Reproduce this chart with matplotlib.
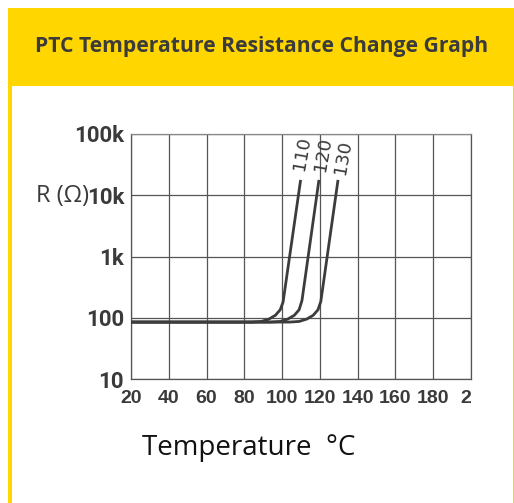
import numpy as np
import matplotlib.pyplot as plt
from matplotlib.patches import Rectangle

# x axis: temperature ticks, y axis: resistance decades
temp_ticks = [20, 40, 60, 80, 100, 120, 140, 160, 180, 200]
temp_labels = ["20", "40", "60", "80", "100", "120", "140", "160", "180", "2"]
res_ticks = [10, 100, 1000, 10000, 100000]
res_labels = ["10", "100", "1k", "10k", "100k"]

# curves (temperature, resistance)
t_110 = [20, 84, 89, 93, 96.5, 99, 100.5, 109.8]
r_110 = [85, 85, 87, 95, 110, 135, 180, 17800]
t_120 = [20, 94, 99, 103, 106.5, 109, 110.5, 119.5]
r_120 = [85, 85, 87, 95, 110, 135, 190, 17800]
t_130 = [20, 104, 109, 113, 116.5, 119, 120.5, 129.6]
r_130 = [85, 85, 87, 95, 110, 135, 185, 17800]
curve_names = ["110", "120", "130"]

W, H = 514, 503
fig = plt.figure(figsize=(W / 100, H / 100), dpi=100)

def px_rect(x0, y0, x1, y1, color):
    fig.patches.append(Rectangle((x0 / W, 1 - y1 / H), (x1 - x0) / W, (y1 - y0) / H,
                                 transform=fig.transFigure, color=color, zorder=0, lw=0))

yellow = "#FFD600"
px_rect(8, 8, 514, 86, yellow)
px_rect(8, 86, 11.5, 503, yellow)
px_rect(512.5, 86, 514, 503, yellow)

fig.text(262 / W, 1 - 46 / H, "PTC Temperature Resistance Change Graph",
         ha="center", va="center", fontsize=15.2, fontweight="bold",
         family="Open Sans", color="#3b3b3b")

ax = fig.add_axes([131 / W, 1 - 379 / H, 340 / W, 245 / H])
ax.set_yscale("log")
ax.set_xlim(20, 200)
ax.set_ylim(10, 100000)

line_col = "#3c3c3c"
for t, r in [(t_110, r_110), (t_120, r_120), (t_130, r_130)]:
    ax.plot(t, r, color=line_col, lw=2.0, solid_capstyle="butt", zorder=3)

ax.set_xticks(temp_ticks)
ax.set_xticklabels(temp_labels, family="Liberation Sans", fontweight="bold",
                   fontsize=14, color="#3a3a3a")
ax.get_xticklabels()[-1].set_ha("right")
ax.set_yticks(res_ticks)
ax.set_yticklabels(res_labels, family="Roboto", fontweight="bold",
                   fontsize=16, color="#3a3a3a")
ax.yaxis.set_minor_locator(plt.NullLocator())
ax.tick_params(length=0)
ax.tick_params(axis="x", pad=8)
ax.tick_params(axis="y", pad=5)
ax.grid(True, color="#555555", lw=0.9)
for s in ax.spines.values():
    s.set_color("#555555")
    s.set_linewidth(0.9)
ax.spines["top"].set_color("#888888")

# curve labels
label_pos = [(110.5, 153), (121.5, 154), (132.5, 157)]
for name, (xt, yp) in zip(curve_names, label_pos):
    ax.text(xt, 10 ** (1 + (379 - yp) / 61.25), name, rotation=80,
            ha="center", va="center", fontsize=13, family="DejaVu Sans",
            color="#3a3a3a")

fig.text(89 / W, 1 - 196 / H, "R (\u03a9)", ha="right", va="center",
         fontsize=17, family="Open Sans", color="#3a3a3a")
fig.text(142 / W, 1 - 448 / H, "Temperature  \u00b0C", ha="left", va="center",
         fontsize=20, family="Open Sans", color="#111111")

fig.savefig("out.png", dpi=100)
